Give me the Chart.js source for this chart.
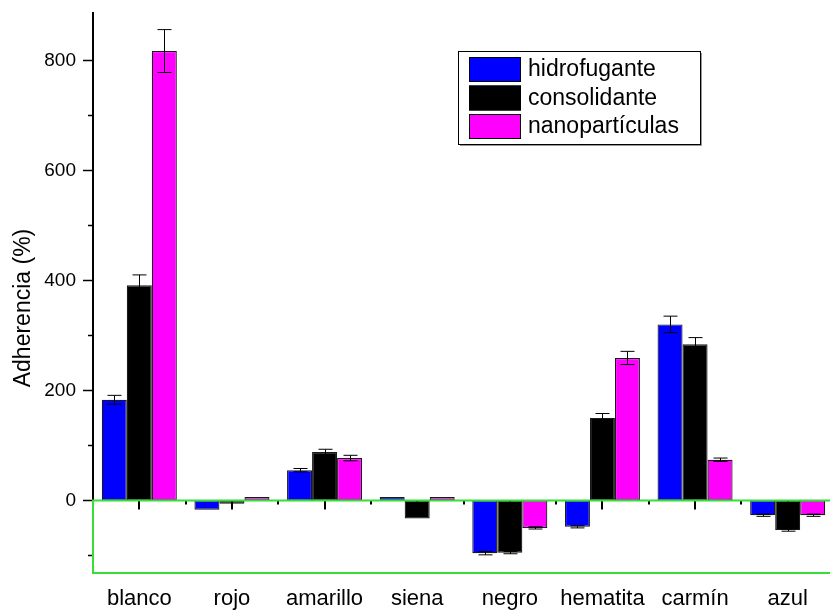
<!DOCTYPE html>
<html>
<head>
<meta charset="utf-8">
<script src="https://cdn.jsdelivr.net/npm/chart.js@4"></script>
<style>
  html, body { margin: 0; padding: 0; background: #fff; overflow: hidden; }
  #wrap { width: 834px; height: 611px; }
</style>
</head>
<body>
<div id="wrap"><canvas id="grafico" width="834" height="611"></canvas></div>
<script>
// Dados do gráfico
const categorias = ['blanco', 'rojo', 'amarillo', 'siena', 'negro', 'hematita', 'carmín', 'azul'];
const hidrofugante = [183, -17, 55, 6, -96, -48, 320, -27];
const consolidante = [391, -6, 88, -33, -95, 150, 284, -54];
const nanoparticulas = [817, 6, 77, 6, -50, 259, 74, -27];
const errHidrofugante = [8, 0, 3, 0, 3, 2, 15, 2];
const errConsolidante = [19, 0, 5, 0, 2, 8, 12, 2];
const errNanoparticulas = [39, 0, 5, 0, 2, 12, 3, 2];
const ticksY = [-100, 0, 100, 200, 300, 400, 500, 600, 700, 800];
const tituloY = 'Adherencia (%)';

const verde = '#35e035';
const fonte = 'Arial, "Liberation Sans", sans-serif';

// Plugin: eixos, barras de erro, título do eixo e legenda
const extras = {
    id: 'extras',
    afterDatasetsDraw(chart) {
        const ctx = chart.ctx;
        const area = chart.chartArea;
        const x = chart.scales.x;
        const y = chart.scales.y;
        const y0 = y.getPixelForValue(0);

        // barras de erro
        ctx.save();
        ctx.strokeStyle = '#000';
        ctx.lineWidth = 1;
        chart.data.datasets.forEach((ds, i) => {
            const meta = chart.getDatasetMeta(i);
            meta.data.forEach((bar, j) => {
                const e = ds.erros[j];
                if (!e) return;
                const v = ds.data[j];
                const cx = Math.round(bar.x) + 0.5;
                const yt = y.getPixelForValue(v + e);
                const yb = y.getPixelForValue(v - e);
                ctx.beginPath();
                ctx.moveTo(cx, yt); ctx.lineTo(cx, yb);
                ctx.moveTo(cx - 7, yt); ctx.lineTo(cx + 7, yt);
                ctx.moveTo(cx - 7, yb); ctx.lineTo(cx + 7, yb);
                ctx.stroke();
            });
        });

        // eixo Y (preto acima de zero)
        ctx.strokeStyle = '#000';
        ctx.lineWidth = 2;
        ctx.beginPath();
        ctx.moveTo(area.left, area.top);
        ctx.lineTo(area.left, y0);
        ctx.stroke();
        ctx.lineWidth = 1.5;
        ticksY.forEach(v => {
            const py = Math.round(y.getPixelForValue(v)) + 0.5;
            const len = (v % 200 === 0) ? 10 : 5;
            ctx.beginPath();
            ctx.moveTo(area.left - len, py);
            ctx.lineTo(area.left, py);
            ctx.stroke();
        });

        // ticks do eixo X no zero
        ctx.lineWidth = 2;
        categorias.forEach((c, j) => {
            const px = Math.round(x.getPixelForValue(j));
            ctx.beginPath();
            ctx.moveTo(px, y0);
            ctx.lineTo(px, y0 + 9);
            ctx.stroke();
            if (j > 0) {
                const pb = Math.round((x.getPixelForValue(j) + x.getPixelForValue(j - 1)) / 2);
                ctx.beginPath();
                ctx.moveTo(pb, y0);
                ctx.lineTo(pb, y0 + 4);
                ctx.stroke();
            }
        });

        // moldura verde
        ctx.strokeStyle = verde;
        ctx.lineWidth = 2;
        ctx.beginPath();
        ctx.moveTo(area.right + 2, y0);
        ctx.lineTo(area.left, y0);
        ctx.lineTo(area.left, area.bottom);
        ctx.lineTo(area.right + 2, area.bottom);
        ctx.stroke();

        // título do eixo Y
        ctx.fillStyle = '#000';
        ctx.font = '23px ' + fonte;
        ctx.textAlign = 'center';
        ctx.textBaseline = 'alphabetic';
        ctx.translate(30, 308);
        ctx.rotate(-Math.PI / 2);
        ctx.fillText(tituloY, 0, 0);
        ctx.setTransform(1, 0, 0, 1, 0, 0);

        // legenda
        const lx = 458, ly = 51, lw = 242, lh = 93;
        ctx.fillStyle = '#999';
        ctx.fillRect(lx + 2, ly + 2, lw, lh);
        ctx.fillStyle = '#fff';
        ctx.fillRect(lx, ly, lw, lh);
        ctx.strokeStyle = '#000';
        ctx.lineWidth = 1;
        ctx.strokeRect(lx + 0.5, ly + 0.5, lw, lh);
        ctx.font = '23px ' + fonte;
        ctx.textAlign = 'left';
        ctx.textBaseline = 'middle';
        chart.data.datasets.forEach((ds, i) => {
            const ry = 57 + i * 28.5;
            ctx.fillStyle = ds.backgroundColor;
            ctx.fillRect(lx + 11, ry, 52, 25);
            ctx.strokeStyle = '#000';
            ctx.strokeRect(lx + 11.5, ry + 0.5, 51, 24);
            ctx.fillStyle = '#000';
            ctx.fillText(ds.label, 528, ry + 13);
        });
        ctx.restore();
    }
};

const ctx = document.getElementById('grafico').getContext('2d');
const grafico = new Chart(ctx, {
    type: 'bar',
    data: {
        labels: categorias,
        datasets: [
            { label: 'hidrofugante', data: hidrofugante, erros: errHidrofugante, backgroundColor: '#0000ff' },
            { label: 'consolidante', data: consolidante, erros: errConsolidante, backgroundColor: '#000000' },
            { label: 'nanopartículas', data: nanoparticulas, erros: errNanoparticulas, backgroundColor: '#ff00ff' }
        ]
    },
    plugins: [extras],
    options: {
        responsive: false,
        animation: false,
        layout: { padding: { top: 12, right: 0, left: 0, bottom: 0 } },
        datasets: {
            bar: {
                borderColor: '#1a1a1a',
                borderWidth: 1.2,
                borderSkipped: false,
                categoryPercentage: 0.81,
                barPercentage: 1
            }
        },
        plugins: {
            legend: { display: false },
            tooltip: { enabled: false }
        },
        scales: {
            x: {
                grid: { display: false, drawTicks: false },
                border: { display: false },
                ticks: {
                    color: '#000',
                    font: { family: fonte, size: 22 },
                    padding: 13,
                    maxRotation: 0
                },
                afterFit: s => { s.height = 38; s.paddingLeft = 0; s.paddingRight = 0; }
            },
            y: {
                min: -132,
                max: 888,
                grid: { display: false, drawTicks: false },
                border: { display: false },
                ticks: {
                    stepSize: 100,
                    color: '#000',
                    font: { family: fonte, size: 19 },
                    padding: 17,
                    callback: v => (v >= 0 && v % 200 === 0) ? v : ''
                },
                afterFit: s => { s.width = 93; s.paddingTop = 0; s.paddingBottom = 0; }
            }
        }
    }
});
</script>
</body>
</html>
